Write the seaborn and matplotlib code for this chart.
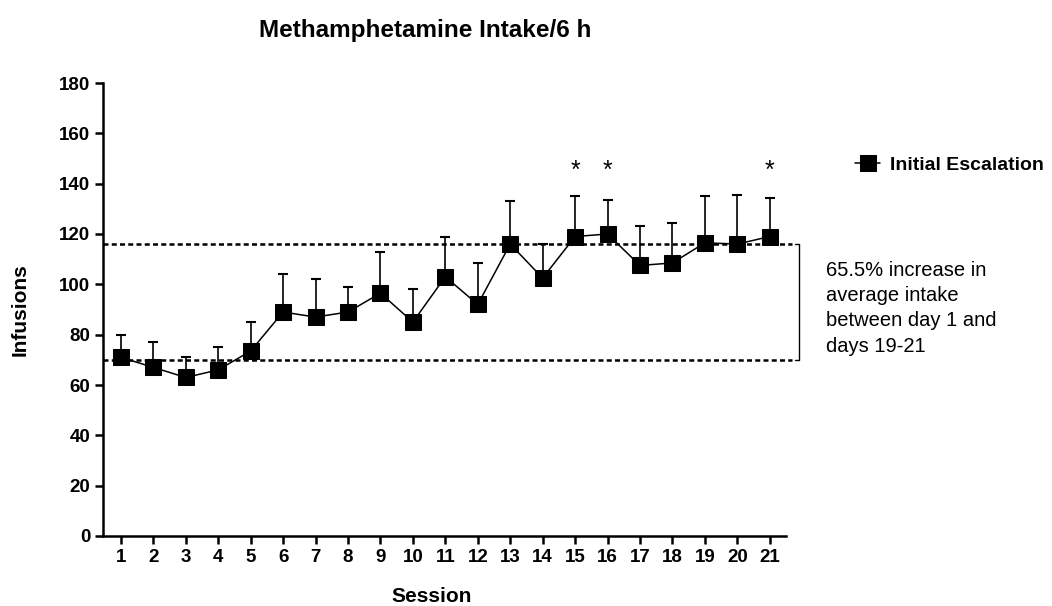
import matplotlib
matplotlib.use("Agg")
import matplotlib.pyplot as plt
import seaborn as sns
import pandas as pd
import numpy as np

sessions = list(range(1, 22))
mean_infusions = [71, 67, 63, 66, 73.5, 89, 87, 89, 96.5, 85, 103, 92, 116, 102.5,
                  119, 120, 107.5, 108.5, 116.5, 116, 119]
upper_err = [80, 77, 71, 75, 85, 104, 102, 99, 113, 98, 119, 108.5, 133, 116,
             135, 133.5, 123, 124.5, 135, 135.5, 134.5]
star_sessions = [15, 16, 21]
star_level = 145
baseline_day1 = 70
baseline_late = 116
yticks = list(range(0, 181, 20))
series_label = "Initial Escalation"
annot_text = "65.5% increase in\naverage intake\nbetween day 1 and\ndays 19-21"

df = pd.DataFrame({"Session": sessions, "Infusions": mean_infusions})

sns.set_style("ticks")
plt.rcParams['font.family'] = ['Liberation Sans', 'DejaVu Sans']
for k in ['text.color', 'axes.labelcolor', 'xtick.color', 'ytick.color', 'axes.edgecolor']:
    plt.rcParams[k] = 'black'

fig = plt.figure(figsize=(10.52, 6.06), dpi=100)
ax = fig.add_axes([103/1052, 1-536/606, (786-103)/1052, (536-83)/606])

# error bars (upper only)
yerr = [np.zeros(len(sessions)), np.array(upper_err) - np.array(mean_infusions)]
ax.errorbar(sessions, mean_infusions, yerr=yerr, fmt='none', ecolor='black',
            elinewidth=1.2, capsize=3.5, capthick=1.5, zorder=2, clip_on=False)

sns.lineplot(data=df, x="Session", y="Infusions", ax=ax, color='black',
             marker='s', markersize=11, markeredgecolor='black', linewidth=1.1,
             label=series_label, zorder=3, clip_on=False)

# dashed reference lines
for lvl in (baseline_day1, baseline_late):
    ax.plot([0.45, 21.68], [lvl, lvl], color='black', lw=1.8,
            linestyle=(0, (2, 1.3)), clip_on=False, zorder=1)

# bracket
bx = 21.9
ax.plot([bx - 0.12, bx, bx, bx - 0.12], [baseline_late, baseline_late, baseline_day1, baseline_day1],
        color='black', lw=1.0, clip_on=False)
ax.text(22.72, (baseline_late + baseline_day1) / 2 - 2.5, annot_text, ha='left', va='center',
        fontsize=14.5, linespacing=1.42)

for s in star_sessions:
    ax.text(s, star_level, "*", ha='center', va='center', fontsize=18)

ax.set_xlim(0.45, 21.5)
ax.set_ylim(0, 180)
ax.set_xticks(sessions)
ax.set_yticks(yticks)
ax.tick_params(axis='both', direction='out', length=5.5, width=1.8, labelsize=13.5, pad=3.5)
for lab in ax.get_xticklabels() + ax.get_yticklabels():
    lab.set_fontweight('bold')
for sp in ['top', 'right']:
    ax.spines[sp].set_visible(False)
for sp in ['left', 'bottom']:
    ax.spines[sp].set_linewidth(1.8)
ax.set_xlabel("")
ax.set_ylabel("")

fig.text(432/1052, 1-596/606, "Session", ha='center', va='center', fontsize=15, fontweight='bold')
fig.text(20/1052, 1-310/606, "Infusions", ha='center', va='center', rotation=90,
         fontsize=15, fontweight='bold')
fig.text(425/1052, 1-30/606, "Methamphetamine Intake/6 h", ha='center', va='center',
         fontsize=17.5, fontweight='bold')

leg = ax.legend(loc='center left', bbox_to_anchor=(855/1052, 1-165/606),
                bbox_transform=fig.transFigure, frameon=False, handlelength=1.3,
                handletextpad=0.5, borderpad=0, borderaxespad=0,
                prop={'size': 14, 'weight': 'bold'})

fig.savefig("out.png", dpi=100)
